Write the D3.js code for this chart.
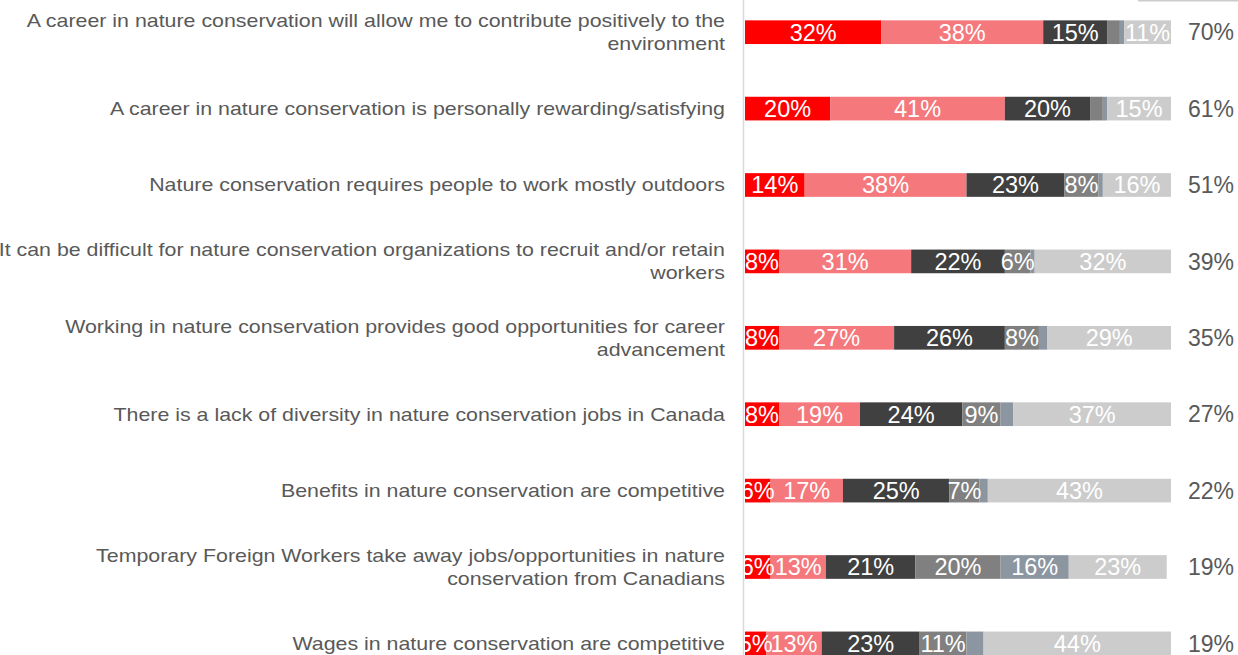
<!DOCTYPE html>
<html>
<head>
<meta charset="utf-8">
<script src="https://cdn.jsdelivr.net/npm/d3@7"></script>
<style>
  html, body { margin: 0; padding: 0; background: #ffffff; }
  svg { display: block; }
</style>
</head>
<body>
<svg id="chart" width="1238" height="655"></svg>
<script>
// Statements (a "\n" marks where the label wraps)
const categories = [
  "A career in nature conservation will allow me to contribute positively to the\nenvironment",
  "A career in nature conservation is personally rewarding/satisfying",
  "Nature conservation requires people to work mostly outdoors",
  "It can be difficult for nature conservation organizations to recruit and/or retain\nworkers",
  "Working in nature conservation provides good opportunities for career\nadvancement",
  "There is a lack of diversity in nature conservation jobs in Canada",
  "Benefits in nature conservation are competitive",
  "Temporary Foreign Workers take away jobs/opportunities in nature\nconservation from Canadians",
  "Wages in nature conservation are competitive"
];

// Response series, one value per statement (percent)
const seriesNames = ["Strongly agree", "Somewhat agree", "Somewhat disagree", "Strongly disagree", "Prefer not to say", "Don't know"];
const stronglyAgree    = [32, 20, 14,  8,  8,  8,  6,  6,  5];
const somewhatAgree    = [38, 41, 38, 31, 27, 19, 17, 13, 13];
const somewhatDisagree = [15, 20, 23, 22, 26, 24, 25, 21, 23];
const stronglyDisagree = [ 3,  3,  8,  6,  8,  9,  7, 20, 11];
const preferNotToSay   = [ 1,  1,  1,  1,  2,  3,  2, 16,  4];
const dontKnow         = [11, 15, 16, 32, 29, 37, 43, 23, 44];

// Total agree, shown to the right of each bar
const netAgree = ["70%", "61%", "51%", "39%", "35%", "27%", "22%", "19%", "19%"];

const seriesColors = ["#ff0000", "#f4787c", "#404040", "#808080", "#8c96a0", "#cccccc"];

const rows = categories.map((c, i) => ({
  category: c,
  values: [stronglyAgree[i], somewhatAgree[i], somewhatDisagree[i], stronglyDisagree[i], preferNotToSay[i], dontKnow[i]],
  net: netAgree[i]
}));

const svg = d3.select("#chart");
const W = 1238, H = 655;

const x = d3.scaleLinear().domain([0, 100]).range([745, 1171]);
const y = d3.scaleBand()
  .domain(categories)
  .range([-6, 681.6])
  .paddingInner(0.69)
  .paddingOuter(0.345);

const font = "Arial, 'Liberation Sans', sans-serif";
const textColor = "#595959";

// Top edge of the legend frame
svg.append("line")
  .attr("x1", 1138).attr("x2", W)
  .attr("y1", 0.5).attr("y2", 0.5)
  .attr("stroke", "#cccccc").attr("stroke-width", 2);

// Category axis line
svg.append("line")
  .attr("x1", 743.5).attr("x2", 743.5)
  .attr("y1", 0).attr("y2", H)
  .attr("stroke", "#d9d9d9").attr("stroke-width", 1.5);

// Stack each row
const stacked = rows.map(r => {
  let acc = 0;
  return r.values.map((v, k) => {
    const seg = { row: r, k, v, x0: acc, x1: acc + v };
    acc += v;
    return seg;
  });
});

const barG = svg.append("g");
barG.selectAll("g.row")
  .data(stacked)
  .join("g")
  .attr("class", "row")
  .selectAll("rect")
  .data(d => d)
  .join("rect")
  .attr("x", d => x(d.x0))
  .attr("y", d => y(d.row.category))
  .attr("width", d => x(d.x1) - x(d.x0))
  .attr("height", y.bandwidth())
  .attr("fill", d => seriesColors[d.k]);

// Segment value labels, clipped at the axis line
svg.append("defs").append("clipPath").attr("id", "plotClip")
  .append("rect").attr("x", 744).attr("y", 0).attr("width", W - 744).attr("height", H);

const labelG = svg.append("g").attr("clip-path", "url(#plotClip)");
labelG.selectAll("text")
  .data(stacked.flat().filter(d => d.v >= 5))
  .join("text")
  .attr("x", d => (x(d.x0) + x(d.x1)) / 2)
  .attr("y", d => y(d.row.category) + y.bandwidth() / 2)
  .attr("dy", "0.36em")
  .attr("text-anchor", "middle")
  .attr("font-family", font)
  .attr("font-size", 23.5)
  .attr("fill", "#ffffff")
  .text(d => d.v + "%");

// Net agree labels
svg.append("g").selectAll("text")
  .data(rows)
  .join("text")
  .attr("x", 1188)
  .attr("y", d => y(d.category) + y.bandwidth() / 2)
  .attr("dy", "0.36em")
  .attr("font-family", font)
  .attr("font-size", 23)
  .attr("fill", textColor)
  .text(d => d.net);

// Category labels, right aligned and set slightly wide
const lineH = 23;
const catG = svg.append("g")
  .attr("transform", "translate(725,0) scale(1.187,1)")
  .selectAll("text")
  .data(categories)
  .join("text")
  .attr("text-anchor", "end")
  .attr("font-family", font)
  .attr("font-size", 18)
  .attr("fill", textColor)
  .attr("y", d => y(d) + y.bandwidth() / 2);

catG.each(function(d) {
  const lines = d.split("\n");
  const t = d3.select(this);
  const first = -(lines.length - 1) / 2 * lineH;
  lines.forEach((ln, i) => {
    t.append("tspan")
      .attr("x", 0)
      .attr("dy", i === 0 ? (first / 18 + 0.36) + "em" : lineH + "px")
      .text(ln);
  });
});
</script>
</body>
</html>
